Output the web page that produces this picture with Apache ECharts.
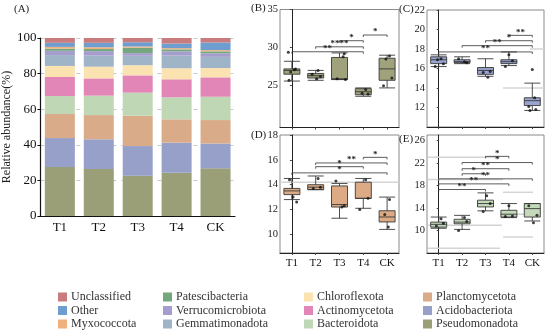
<!DOCTYPE html>
<html><head><meta charset="utf-8">
<script src="https://cdn.jsdelivr.net/npm/echarts@6/dist/echarts.min.js"></script>
<style>html,body{margin:0;padding:0;background:#fff}#c{width:550px;height:332px}</style>
</head><body><div id="c"></div>
<script>
const categories = ['T1','T2','T3','T4','CK'];
// Panel A stacked abundance (%), bottom to top
const Pseudomonadota    = [27.5, 26.4, 22.6, 24.3, 26.8];
const Acidobacteriota   = [16.3, 16.7, 16.7, 16.9, 13.9];
const Planctomycetota   = [13.5, 13.6, 17.0, 13.1, 13.2];
const Bacteroidota      = [10.1, 10.9, 13.0, 12.4, 13.1];
const Actinomycetota    = [10.7, 9.7, 9.7, 10.1, 10.9];
const Chloroflexota     = [6.2, 6.6, 5.7, 6.2, 5.2];
const Gemmatimonadota   = [6.1, 6.2, 5.3, 7.1, 6.3];
const Verrucomicrobiota = [2.4, 2.5, 1.5, 2.4, 2.0];
const Patescibacteria   = [1.2, 1.2, 3.0, 1.1, 1.1];
const Myxococcota       = [1.0, 1.0, 0.7, 0.7, 0.7];
const Other             = [2.3, 2.5, 2.4, 2.6, 4.3];
const Unclassified      = [2.7, 2.7, 2.4, 3.1, 2.5];

const stackNames = ['Pseudomonadota','Acidobacteriota','Planctomycetota','Bacteroidota','Actinomycetota','Chloroflexota','Gemmatimonadota','Verrucomicrobiota','Patescibacteria','Myxococcota','Other','Unclassified'];
const stackValues = [Pseudomonadota,Acidobacteriota,Planctomycetota,Bacteroidota,Actinomycetota,Chloroflexota,Gemmatimonadota,Verrucomicrobiota,Patescibacteria,Myxococcota,Other,Unclassified];
const stackColors = ['#9a9f78','#97a0c9','#d9ab89','#c0d7b6','#e186b6','#fbe3b1','#a0b4c8','#a59dcd','#74a77e','#efb27f','#6e9dd0','#c87c7d'];
const legendCols = [
  ['Unclassified','Other','Myxococcota'],
  ['Patescibacteria','Verrucomicrobiota','Gemmatimonadota'],
  ['Chloroflexota','Actinomycetota','Bacteroidota'],
  ['Planctomycetota','Acidobacteriota','Pseudomonadota']
];

// Box panels: [min, Q1, median, Q3, max] per category
const boxB = [[25.6,26.5,27.0,27.2,28.2],[25.7,26.0,26.3,26.6,27.0],[25.8,25.8,25.9,28.7,29.3],[23.6,23.8,24.2,24.6,24.7],[24.7,25.7,27.2,28.6,29.0]];
const boxC = [[16.2,16.5,16.9,17.2,17.4],[16.5,16.6,16.7,16.9,17.2],[15.2,15.4,15.8,16.1,17.0],[16.3,16.5,16.7,16.9,17.7],[11.7,12.2,12.7,13.0,14.5]];
const boxD = [[12.8,13.2,13.5,13.7,14.5],[13.6,13.6,13.8,14.0,14.7],[11.3,12.2,12.4,13.9,14.1],[12.1,12.9,12.9,14.2,14.5],[10.4,11.0,11.4,11.9,13.0]];
const boxE = [[10.4,10.6,11.1,11.5,12.4],[10.2,11.2,11.5,12.0,12.7],[13.5,14.2,14.8,15.4,16.7],[12.3,12.4,12.9,13.6,14.8],[11.7,12.4,13.9,14.8,14.8]];

// sample dots: [category index + offset, value]
const dotsB = [[-0.15,29.4],[0.1,27.1],[-0.05,26.8],[-0.12,25.7],[0.15,27.2],[1.1,27.0],[0.85,26.5],[1.05,25.9],[1.2,26.2],[2.2,29.2],[2.15,28.8],[1.9,25.9],[2.25,25.8],[3.1,24.5],[2.95,24.0],[3.2,23.9],[4.1,28.9],[3.95,28.5],[4.2,26.0],[3.85,25.0]];
const dotsC = [[0.1,17.0],[-0.05,16.9],[-0.15,16.2],[0.2,16.5],[0.85,17.0],[1.1,16.7],[1.2,16.6],[1.9,15.6],[2.1,15.1],[2.2,15.7],[3.0,17.4],[2.85,16.2],[3.15,16.8],[4.0,15.9],[4.1,13.0],[3.85,12.1],[4.15,11.8],[3.9,11.7]];
const dotsD = [[-0.1,14.4],[0.05,13.0],[0.2,12.6],[1.1,14.5],[0.9,13.7],[1.2,13.8],[1.85,14.3],[2.1,12.2],[2.2,12.3],[3.1,14.4],[2.85,12.0],[3.2,12.9],[4.1,12.8],[3.9,11.6],[4.05,10.6]];
const dotsE = [[0.1,12.1],[-0.1,10.8],[0.2,11.3],[1.1,12.3],[0.85,10.0],[1.2,11.6],[2.05,16.2],[1.9,13.4],[2.2,14.8],[3.0,14.4],[2.85,12.5],[3.15,12.6],[3.85,14.4],[4.05,11.4],[4.2,12.7]];

// significance brackets: [from index, to index, y value]
const brB = [[3,4,31.65],[2,3,30.9],[1,3,30.1],[0,3,29.45]];
const brBLab = ['*','*','****','**'];
const brC = [[3,4,19.4],[2,4,18.85],[1,4,18.34],[0,4,17.7]];
const brCLab = ['**','*','**','**'];
const brD = [[3,4,16.2],[1,4,15.75],[1,3,15.45],[0,4,14.95]];
const brDLab = ['*','**','*','*'];
const brE = [[2,3,23.2],[1,4,22.1],[1,3,21.0],[1,2,20.1],[0,4,19.2],[0,3,18.3],[0,2,17.3]];
const brELab = ['*','*','**','*','**','**','**'];

// faint grey guide lines seen in the panels: [from x, to x, y value]
const guideC = [[3.9,4.5,18.0],[2.75,4.5,14.0]];
const guideD = [[-0.5,4.5,14.2]];
const guideE = [[-0.46,2.62,23.05],[-0.46,2.75,19.06],[2.75,4.03,16.8],[2.75,4.2,12.9],[-0.46,2.7,10.96],[2.75,4.03,8.84],[-0.46,2.62,6.85]];

const yB = {min:19.5,max:35,ticks:[25,30,35]};
const yC = {min:10,max:22,ticks:[12,14,16,18,20,22]};
const yD = {min:8.5,max:18,ticks:[10,12,14,16,18]};
const yE = {min:6,max:27,ticks:[10,14,18,22,26]};

const SERIF = '"Liberation Serif","DejaVu Serif",serif';
const chart = echarts.init(document.getElementById('c'), null, {renderer:'canvas'});

const grids = [
  {left:40, top:38, width:195, height:178},
  {left:280, top:9.5, width:119, height:118, show:true, borderColor:'#8a8a8a', borderWidth:1},
  {left:427, top:10, width:117, height:117, show:true, borderColor:'#8a8a8a', borderWidth:1},
  {left:280, top:135, width:119, height:118, show:true, borderColor:'#8a8a8a', borderWidth:1},
  {left:427, top:135, width:117, height:118, show:true, borderColor:'#8a8a8a', borderWidth:1}
];

const xAxes = [{
  gridIndex:0, type:'category', data:categories,
  axisLine:{lineStyle:{color:'#111',width:1.2}}, axisTick:{show:false},
  axisLabel:{color:'#111', fontFamily:SERIF, fontSize:13, margin:5}
}];
for (let g=1; g<=4; g++) {
  xAxes.push({
    gridIndex:g, type:'category', data:categories,
    axisLine:{lineStyle:{color:'#222',width:1}},
    axisTick:{show:true, alignWithLabel:true, length:2, lineStyle:{color:'#444'}},
    axisLabel:{show:g>=3, color:'#111', fontFamily:SERIF, fontSize:11, margin:5}
  });
}
for (let g=1; g<=4; g++) {
  xAxes.push({gridIndex:g, type:'value', min:-0.5, max:4.5, show:false});
}

function boxY(g, cfg) {
  return {
    gridIndex:g, type:'value', min:cfg.min, max:cfg.max,
    axisLine:{show:true, lineStyle:{color:'#222',width:1}},
    axisTick:{show:true, length:2, customValues:cfg.ticks, lineStyle:{color:'#444'}},
    axisLabel:{color:'#222', fontFamily:SERIF, fontSize:10.5, margin:2, customValues:cfg.ticks},
    splitLine:{show:false}
  };
}
const yAxes = [
  {gridIndex:0, type:'value', min:0, max:100, interval:20,
   name:'Relative abundance(%)', nameLocation:'middle', nameGap:27,
   nameTextStyle:{fontFamily:SERIF, fontSize:12, color:'#222'},
   axisLine:{show:true, lineStyle:{color:'#111',width:1.2}},
   axisTick:{show:true, length:3, lineStyle:{color:'#111'}},
   axisLabel:{color:'#111', fontFamily:SERIF, fontSize:13, margin:4},
   splitLine:{show:true, lineStyle:{color:'#c8c8c8', type:[4,5], width:1}}},
  boxY(1,yB), boxY(2,yC), boxY(3,yD), boxY(4,yE)
];

const series = [];
stackNames.forEach((n,i)=>{
  series.push({name:n, type:'bar', stack:'a', xAxisIndex:0, yAxisIndex:0,
    data:stackValues[i], barWidth:30, itemStyle:{color:stackColors[i]}, z:3});
});

const boxColors = ['#9fa27b','#98a3cf','#dcaa84','#c3d9b9'];
const boxes = [boxB, boxC, boxD, boxE];
const dots = [dotsB, dotsC, dotsD, dotsE];
const brs = [brB, brC, brD, brE];
const brLabs = [brBLab, brCLab, brDLab, brELab];
const guides = [[], guideC, guideD, guideE];
for (let k=0; k<4; k++) {
  const g = k+1;
  if (guides[k].length) {
    series.push({type:'custom', xAxisIndex:4+g, yAxisIndex:g, data:guides[k], silent:true, z:1,
      renderItem:function(params, api){
        const p1 = api.coord([api.value(0), api.value(2)]);
        const p2 = api.coord([api.value(1), api.value(2)]);
        return {type:'line', shape:{x1:p1[0],y1:p1[1],x2:p2[0],y2:p2[1]},
          style:{stroke:'#d4d4d4', lineWidth:1.5}};
      }});
  }
  series.push({type:'boxplot', xAxisIndex:g, yAxisIndex:g, data:boxes[k], boxWidth:[16,16],
    itemStyle:{color:boxColors[k], borderColor:'#3a3a3a', borderWidth:0.9}, z:3});
  series.push({type:'scatter', xAxisIndex:4+g, yAxisIndex:g, data:dots[k], symbolSize:3,
    itemStyle:{color:'#111'}, z:5, silent:true});
  const labs = brLabs[k];
  series.push({type:'custom', xAxisIndex:4+g, yAxisIndex:g, data:brs[k], silent:true, z:6,
    renderItem:function(params, api){
      const p1 = api.coord([api.value(0), api.value(2)]);
      const p2 = api.coord([api.value(1), api.value(2)]);
      return {type:'group', children:[
        {type:'polyline', shape:{points:[[p1[0],p1[1]+2],[p1[0],p1[1]],[p2[0],p2[1]],[p2[0],p2[1]+2]]},
         style:{stroke:'#333', fill:null, lineWidth:0.8}},
        {type:'text', style:{text:labs[params.dataIndex], x:(p1[0]+p2[0])/2, y:p1[1]+1.5,
          align:'center', verticalAlign:'bottom', fill:'#222', font:'bold 9px '+SERIF}}
      ]};
    }});
}

const legends = legendCols.map((col,i)=>({
  orient:'vertical', left:[58,163,304,423][i], top:291, data:col,
  itemWidth:9, itemHeight:9, itemGap:1.5, icon:'rect',
  textStyle:{fontFamily:SERIF, fontSize:12, color:'#333', lineHeight:12, padding:[0,0,0,-1]},
  padding:0, selectedMode:false
}));

const titles = [['(A)',14,4],['(B)',251,3],['(C)',399,4],['(D)',251,130],['(E)',399,134]];
chart.setOption({
  animation:false,
  grid:grids, xAxis:xAxes, yAxis:yAxes, series:series, legend:legends,
  graphic: titles.map(t=>({type:'text', left:t[1], top:t[2],
    style:{text:t[0], font:'11px '+SERIF, fill:'#222'}}))
});
</script></body></html>
